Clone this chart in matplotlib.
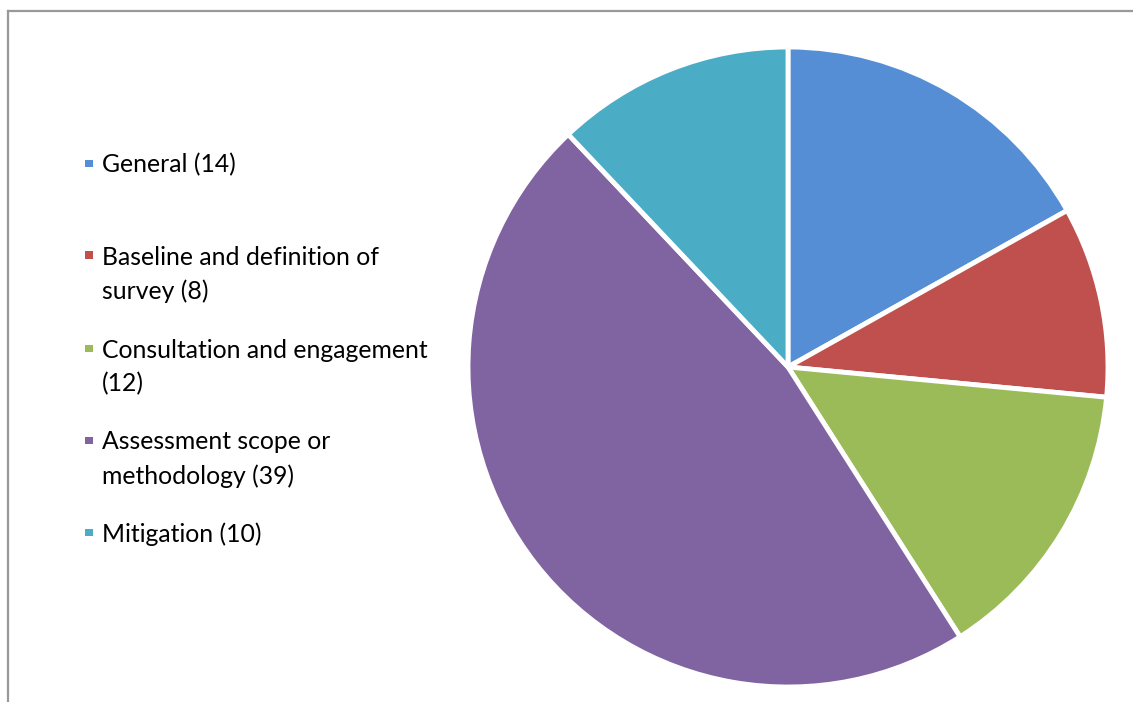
import matplotlib
matplotlib.use("Agg")
import matplotlib.pyplot as plt
from matplotlib.patches import Rectangle
from matplotlib.lines import Line2D

categories = ["General (14)", "Baseline and definition of\nsurvey (8)",
              "Consultation and engagement\n(12)", "Assessment scope or\nmethodology (39)",
              "Mitigation (10)"]
values = [14, 8, 12, 39, 10]
colors = ["#558ED5", "#C0504D", "#9BBB59", "#8064A2", "#4BACC6"]

W, H = 1133, 702
fig = plt.figure(figsize=(W / 100, H / 100), dpi=100)
fig.patch.set_facecolor("white")

# chart border (top and left visible)
fig.add_artist(Line2D([8 / W, 1.01], [1 - 11 / H, 1 - 11 / H], color="#999999", lw=1.6, transform=fig.transFigure))
fig.add_artist(Line2D([8 / W, 8 / W], [1 - 11 / H, -0.01], color="#999999", lw=1.6, transform=fig.transFigure))

cx, cy, r = 788, 367, 320
ax = fig.add_axes([(cx - r) / W, (H - cy - r) / H, 2 * r / W, 2 * r / H])
ax.pie(values, colors=colors, startangle=90, counterclock=False, radius=1.0,
       wedgeprops=dict(edgecolor="white", linewidth=3.5))
ax.set_xlim(-1, 1)
ax.set_ylim(-1, 1)
ax.set_aspect("equal")
ax.axis("off")

# legend
first_line_y = [163, 255, 348, 440, 532]
line_gap = 34
for lab, col, y in zip(categories, colors, first_line_y):
    fig.add_artist(Rectangle((85 / W, 1 - (y + 4) / H), 7.5 / W, 7.5 / H,
                             facecolor=col, edgecolor="none", transform=fig.transFigure))
    for i, line in enumerate(lab.split("\n")):
        fig.text(102 / W, 1 - (y + i * line_gap) / H, line, fontsize=17.8,
                 family=["Lato", "DejaVu Sans"], va="center_baseline", ha="left",
                 color="#000000")

fig.savefig("out.png", dpi=100)
